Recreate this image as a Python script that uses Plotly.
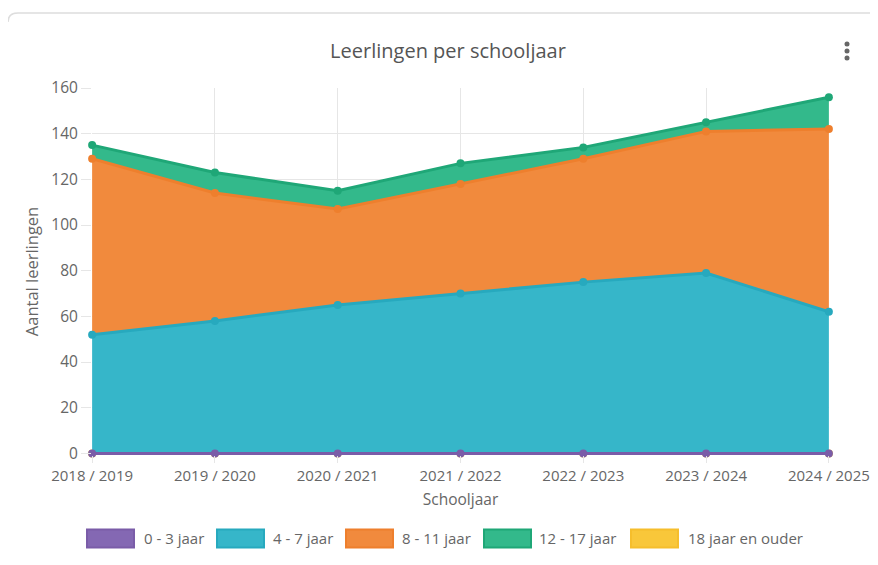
import plotly.graph_objects as go

schooljaren = ["2018 / 2019", "2019 / 2020", "2020 / 2021", "2021 / 2022",
               "2022 / 2023", "2023 / 2024", "2024 / 2025"]
jaar_0_3 = [0, 0, 0, 0, 0, 0, 0]
jaar_4_7 = [52, 58, 65, 70, 75, 79, 62]
jaar_8_11 = [77, 56, 42, 48, 54, 62, 80]
jaar_12_17 = [6, 9, 8, 9, 5, 4, 14]
jaar_18_plus = [0, 0, 0, 0, 0, 0, 0]

series_names = ["0 - 3 jaar", "4 - 7 jaar", "8 - 11 jaar", "12 - 17 jaar", "18 jaar en ouder"]
line_colors = ["#7A5CA8", "#27A9BE", "#EE7F2D", "#1FA777", "#F6BE2C"]
fill_colors = ["#8468B3", "#36B6C9", "#F18A3D", "#33B98B", "#F9C73A"]

# page body has an 8px margin; reference pixel coordinates are page coordinates
OFF = 8
W, H = 878 - OFF, 565 - 2 * OFF
Y_MIN = -0.7  # tiny headroom so the zero line is not clipped
L, R, T = 92, 829, 88
B = 453 + (0 - Y_MIN) * (453 - 88) / 160
FONT = "'Open Sans', Lato, sans-serif"
GRID = "#E6E6E6"
TXT = "#666666"

def px(x):
    return (x - L) / (R - L)

def py(y):
    return (B - y) / (B - T)

fig = go.Figure()
data = [jaar_0_3, jaar_4_7, jaar_8_11, jaar_12_17, jaar_18_plus]
# stack order: 18+ first (zero, hidden under purple), then the rest
order = [4, 0, 1, 2, 3]
for i in order:
    fig.add_trace(go.Scatter(
        x=schooljaren, y=data[i], name=series_names[i],
        stackgroup="one", mode="lines+markers",
        line=dict(color=line_colors[i], width=3),
        marker=dict(color=line_colors[i], size=8),
        fillcolor=fill_colors[i], showlegend=False, cliponaxis=False,
    ))

shapes = []
annotations = []
# custom legend
legend_boxes = [87, 217, 346, 484, 631]
legend_texts = [142, 271, 400, 537, 686]
for i, name in enumerate(series_names):
    bx = legend_boxes[i]
    shapes.append(dict(type="rect", xref="paper", yref="paper",
                       x0=px(bx), x1=px(bx + 47), y0=py(547), y1=py(529),
                       fillcolor=fill_colors[i], line=dict(color=line_colors[i], width=2)))
    annotations.append(dict(text=name, xref="paper", yref="paper",
                            x=px(legend_texts[i]), y=py(538), xanchor="left", yanchor="middle",
                            showarrow=False, font=dict(family=FONT, size=15, color=TXT)))

# card border
shapes.append(dict(type="path", xref="paper", yref="paper",
                   path=f"M {px(878)} {py(13)} L {px(18)} {py(13)} Q {px(8)} {py(13)} {px(8)} {py(22)}",
                   line=dict(color="#DDDDDD", width=1.5)))
# menu dots
for cy in [44, 51, 58]:
    shapes.append(dict(type="circle", xref="paper", yref="paper",
                       x0=px(844.5), x1=px(849.5), y0=py(cy + 2.5), y1=py(cy - 2.5),
                       fillcolor="#666666", line=dict(width=0)))

fig.update_layout(
    width=W, height=H,
    margin=dict(l=L - OFF, r=878 - R, t=T - OFF, b=H - (B - OFF)),
    plot_bgcolor="white", paper_bgcolor="white",
    font=dict(family=FONT, size=15, color=TXT),
    title=dict(text="Leerlingen per schooljaar", x=px(448), xref="paper", xanchor="center",
               y=1 - (51 - OFF) / H, yanchor="middle",
               font=dict(family=FONT, size=20, color="#555555")),
    xaxis=dict(title=dict(text="Schooljaar", standoff=10, font=dict(size=15.5)),
               showgrid=True, gridcolor=GRID, zeroline=False, automargin=False,
               tickfont=dict(size=15), ticks="outside", ticklen=7, tickcolor=GRID,
               range=[-0.001, 6.001]),
    yaxis=dict(title=dict(text="Aantal leerlingen", standoff=8, font=dict(size=16.5)),
               range=[Y_MIN, 160], tick0=0, dtick=20, showgrid=True, gridcolor=GRID,
               automargin=False, zeroline=False, tickfont=dict(size=15.5),
               ticks="outside", ticklen=10, tickcolor=GRID),
    shapes=shapes, annotations=annotations,
    showlegend=False,
)

fig.write_html("out.html")
